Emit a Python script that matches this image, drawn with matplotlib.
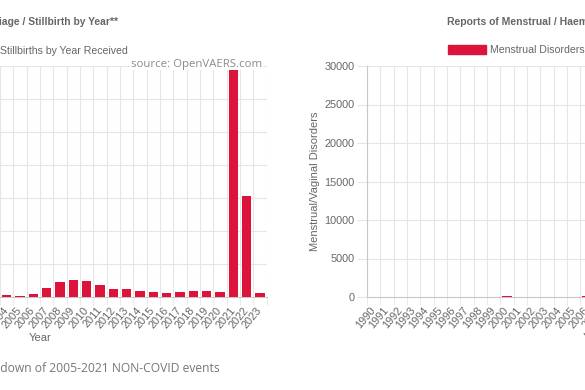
import matplotlib
matplotlib.use("Agg")
import matplotlib.pyplot as plt
from matplotlib.patches import Patch
from matplotlib.ticker import MultipleLocator

# shared category axis for both charts
years = list(range(1990, 2024))

# left chart (miscarriage / stillbirth) - only 2004..2023 are inside the crop
still_years = list(range(2004, 2024))
still_counts = [35, 20, 50, 136, 227, 258, 242, 182, 121, 121,
                96, 76, 61, 71, 86, 86, 71, 3440, 1530, 66]

# right chart (menstrual disorders) - only 1990..2006 are inside the crop
mens_years = list(range(1990, 2007))
mens_counts = [0, 0, 0, 0, 0, 0, 0, 0, 0, 0,
               90, 0, 0, 0, 0, 0, 110]

RED = "#dc143c"
GRID = "#e6e6e6"
AXIS = "#c8c8c8"
TXT = "#666666"
W, H = 585, 390

plt.rcParams['font.family'] = ['Liberation Sans', 'DejaVu Sans']

fig = plt.figure(figsize=(W / 100, H / 100), dpi=100)


def px_axes(x0, y0, x1, y1):
    # axes placed in screenshot pixels (may run off the figure, like the crop)
    return fig.add_axes([x0 / W, 1 - y1 / H, (x1 - x0) / W, (y1 - y0) / H])


def style(ax, ymax, ystep, xs, ys):
    ax.bar(xs, ys, width=0.72, color=RED, zorder=3)
    ax.set_xlim(years[0] - 0.5, years[-1] + 0.5)
    ax.set_ylim(0, ymax)
    ax.yaxis.set_major_locator(MultipleLocator(ystep))
    ax.set_xticks(years)
    ax.set_xticklabels([str(y) for y in years], rotation=50, ha="right",
                       va="center", rotation_mode="anchor")
    ax.set_xticks([y - 0.5 for y in years] + [years[-1] + 0.5], minor=True)
    ax.tick_params(axis="x", which="major", length=0, pad=8,
                   labelsize=7.9, labelcolor=TXT)
    ax.tick_params(axis="x", which="minor", length=6, color=GRID)
    ax.tick_params(axis="y", length=7, color=GRID, labelsize=7.8,
                   labelcolor=TXT, pad=2)
    ax.grid(axis="x", which="minor", color=GRID, lw=0.8, zorder=0)
    ax.grid(axis="y", which="major", color=GRID, lw=0.8, zorder=0)
    for s in ("top", "right"):
        ax.spines[s].set_visible(False)
    ax.spines["left"].set_color(AXIS)
    ax.spines["bottom"].set_color(AXIS)
    ax.set_xlabel("Year", color=TXT, fontsize=8, labelpad=2)


ax1 = px_axes(-186.7, 66, 266.7, 297)
style(ax1, 3500, 500, still_years, still_counts)

ax2 = px_axes(367, 66, 820.3, 297)
style(ax2, 30000, 5000, mens_years, mens_counts)
ax2.set_ylabel("Menstrual/Vaginal Disorders", color=TXT, fontsize=8,
               labelpad=3)

# titles (positioned by their visible ends in the crop)
fig.text(118 / W, 1 - 22 / H, "Reports of Miscarriage / Stillbirth by Year**",
         ha="right", va="center", fontsize=7.4, fontweight="bold", color=TXT)
fig.text(447 / W, 1 - 22 / H, "Reports of Menstrual / Haemorrhage by Year**",
         ha="left", va="center", fontsize=7.5, fontweight="bold", color=TXT)

leg_kw = dict(frameon=False, fontsize=7.6, labelcolor=TXT, handlelength=3.6,
              handleheight=0.85, handletextpad=0.4, borderpad=0,
              borderaxespad=0, bbox_transform=fig.transFigure)
ax1.legend(handles=[Patch(facecolor=RED, edgecolor=RED)],
           labels=["Miscarriages/Stillbirths by Year Received"],
           loc="center right", bbox_to_anchor=(128 / W, 1 - 51 / H), **leg_kw)
ax2.legend(handles=[Patch(facecolor=RED, edgecolor=RED)],
           labels=["Menstrual Disorders"],
           loc="center left", bbox_to_anchor=(448 / W, 1 - 50 / H), **leg_kw)

fig.text(262 / W, 1 - 64 / H, "source: OpenVAERS.com", ha="right",
         va="center", fontsize=8.2, color="#8a8a8a", family="Open Sans",
         bbox=dict(facecolor="white", edgecolor="none", pad=0.5), zorder=5)

fig.text(220 / W, 1 - 368 / H, "See the breakdown of 2005-2021 NON-COVID events",
         ha="right", va="center", fontsize=8.7, color="#777777",
         family="Open Sans")

fig.savefig("out.png", dpi=100)
